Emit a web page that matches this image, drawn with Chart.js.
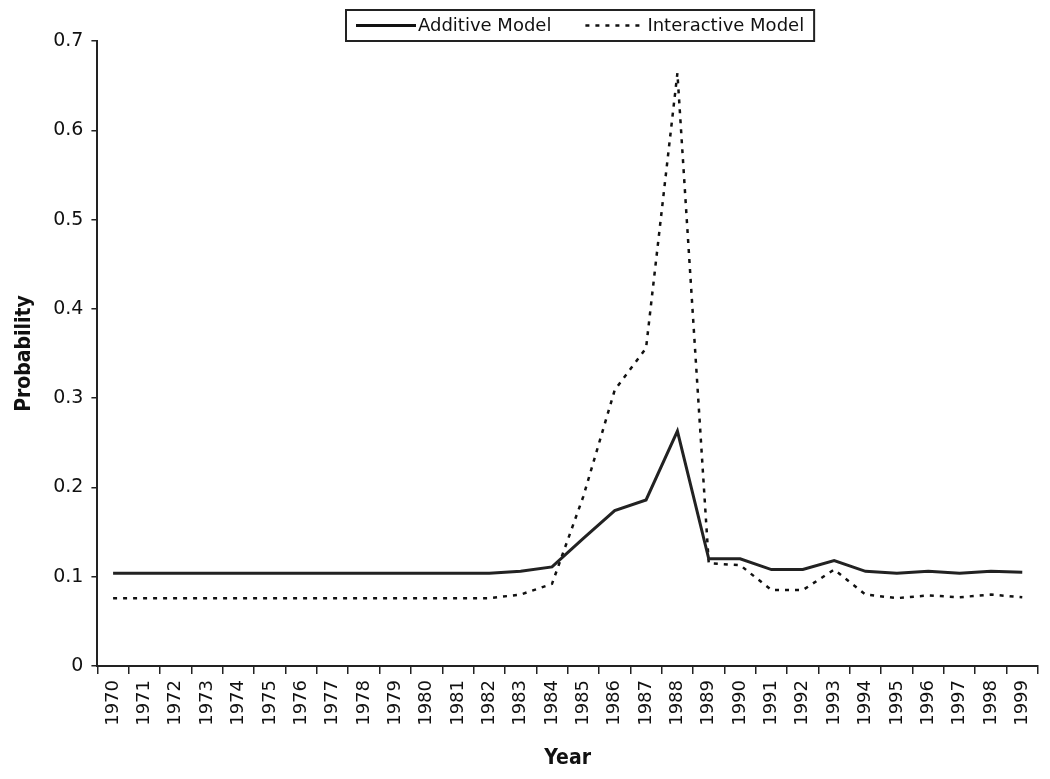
<!DOCTYPE html>
<html lang="en">
<head>
  <meta charset="UTF-8" />
  <title>Probability by Year</title>
  <script src="https://cdn.jsdelivr.net/npm/chart.js"></script>
  <style>
    html, body { margin: 0; padding: 0; background: #fff; }
    #wrap { width: 1050px; height: 779px; position: relative; }
  </style>
</head>
<body>
  <div id="wrap">
    <canvas id="probChart" width="1050" height="779"></canvas>
  </div>

  <script>
    // data
    const years = ['1970','1971','1972','1973','1974','1975','1976','1977','1978','1979',
                   '1980','1981','1982','1983','1984','1985','1986','1987','1988','1989',
                   '1990','1991','1992','1993','1994','1995','1996','1997','1998','1999'];
    const additive = [0.104,0.104,0.104,0.104,0.104,0.104,0.104,0.104,0.104,0.104,
                      0.104,0.104,0.104,0.106,0.111,0.143,0.174,0.186,0.263,0.120,
                      0.120,0.108,0.108,0.118,0.106,0.104,0.106,0.104,0.106,0.105];
    const interactive = [0.076,0.076,0.076,0.076,0.076,0.076,0.076,0.076,0.076,0.076,
                         0.076,0.076,0.076,0.080,0.092,0.190,0.309,0.356,0.664,0.115,
                         0.113,0.085,0.085,0.108,0.080,0.076,0.079,0.077,0.080,0.077];
    const yTicks = [0, 0.1, 0.2, 0.3, 0.4, 0.5, 0.6, 0.7];

    const wide = '"DejaVu Sans", "Liberation Sans", sans-serif';
    const bold = '"DejaVu Sans Condensed", "DejaVu Sans", sans-serif';

    // boxed legend at the top, overlapping the plot's top edge
    const boxLegend = {
      id: 'boxLegend',
      afterDraw(chart) {
        const ctx = chart.ctx;
        const items = [
          { text: 'Additive Model', dash: [], width: 3 },
          { text: 'Interactive Model', dash: [4, 6], width: 2.5 }
        ];
        ctx.save();
        ctx.font = '18px ' + wide;
        const sample = 60, gapText = 2, gapItem = 34, pad = 10;
        let total = pad * 2;
        items.forEach((it, i) => {
          total += sample + gapText + ctx.measureText(it.text).width;
          if (i > 0) total += gapItem;
        });
        const left = Math.round(chart.width / 2 - total / 2) + 55;
        const top = 10, h = 31;
        ctx.fillStyle = '#fff';
        ctx.fillRect(left, top, total, h);
        ctx.strokeStyle = '#222';
        ctx.lineWidth = 2;
        ctx.strokeRect(left, top, total, h);
        let x = left + pad;
        const cy = top + h / 2;
        items.forEach((it, i) => {
          if (i > 0) x += gapItem;
          ctx.beginPath();
          ctx.setLineDash(it.dash);
          ctx.lineWidth = it.width;
          ctx.strokeStyle = '#111';
          ctx.moveTo(x, cy);
          ctx.lineTo(x + sample, cy);
          ctx.stroke();
          ctx.setLineDash([]);
          x += sample + gapText;
          ctx.fillStyle = '#111';
          ctx.textBaseline = 'middle';
          ctx.textAlign = 'left';
          ctx.fillText(it.text, x, cy + 1);
          x += ctx.measureText(it.text).width;
        });
        ctx.restore();
      }
    };

    new Chart(document.getElementById('probChart').getContext('2d'), {
      type: 'line',
      data: {
        labels: years,
        datasets: [{
          label: 'Additive Model',
          data: additive,
          borderColor: '#222',
          borderWidth: 3,
          pointRadius: 0,
          tension: 0,
          fill: false
        }, {
          label: 'Interactive Model',
          data: interactive,
          borderColor: '#111',
          borderWidth: 2.5,
          borderDash: [4, 6],
          pointRadius: 0,
          tension: 0,
          fill: false
        }]
      },
      options: {
        responsive: false,
        animation: false,
        layout: { padding: { top: 41, right: 8, left: 12, bottom: 8 } },
        plugins: {
          legend: { display: false },
          tooltip: { enabled: false }
        },
        scales: {
          x: {
            type: 'category',
            offset: true,
            border: { color: '#222', width: 2 },
            grid: {
              offset: true,
              drawOnChartArea: false,
              drawTicks: true,
              tickLength: 8,
              color: '#222',
              lineWidth: 1.5
            },
            ticks: {
              color: '#111',
              font: { size: 18, family: wide },
              minRotation: 90,
              maxRotation: 90,
              autoSkip: false,
              padding: 6
            },
            title: {
              display: true,
              text: 'Year',
              color: '#111',
              font: { size: 21, weight: 'bold', family: bold },
              padding: { top: 14, bottom: 0 }
            }
          },
          y: {
            min: 0,
            max: 0.7,
            afterBuildTicks(axis) {
              axis.ticks = yTicks.map(v => ({ value: v }));
            },
            border: { color: '#222', width: 2 },
            grid: {
              drawOnChartArea: false,
              drawTicks: true,
              tickLength: 6,
              color: '#222',
              lineWidth: 1.5
            },
            ticks: {
              color: '#111',
              font: { size: 19, family: wide },
              padding: 8,
              callback: v => String(Math.round(v * 10) / 10)
            },
            title: {
              display: true,
              text: 'Probability',
              color: '#111',
              font: { size: 21, weight: 'bold', family: bold },
              padding: { top: 0, bottom: 8 }
            }
          }
        }
      },
      plugins: [boxLegend]
    });
  </script>
</body>
</html>
